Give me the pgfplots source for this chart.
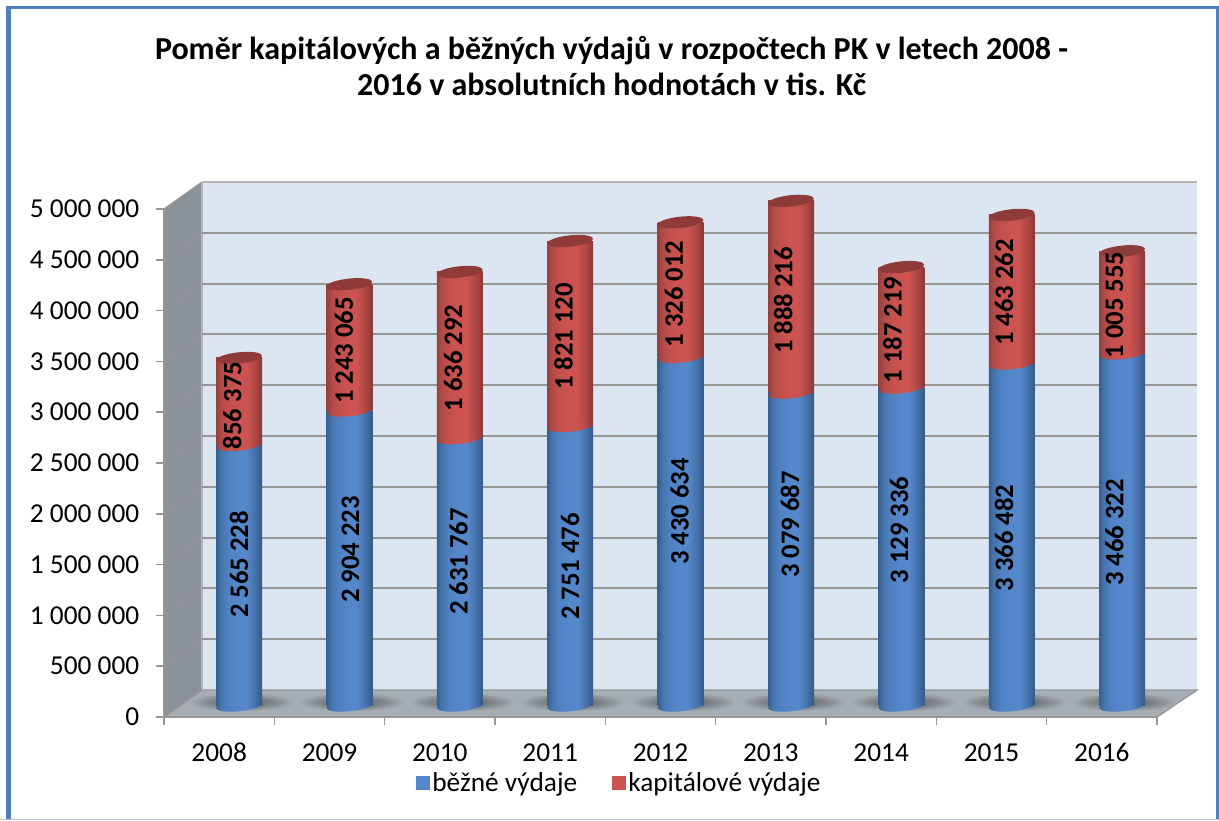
\documentclass[border=0pt]{standalone}
\usepackage{fontspec}
\setmainfont{Carlito}
\usepackage{pgfplots}
\usepackage{pgfplotstable}
\pgfplotsset{compat=1.18}
\usetikzlibrary{shapes.geometric}
\definecolor{frameblue}{HTML}{4F81BD}
\definecolor{wallc}{HTML}{DCE6F2}
\definecolor{gridc}{HTML}{969696}
\definecolor{floorc}{HTML}{A6AEB4}
\definecolor{sidec}{HTML}{8C9299}
\definecolor{capc}{HTML}{8E3B39}
\definecolor{blueL}{HTML}{36608F}\definecolor{blueM}{HTML}{5587CB}\definecolor{blueR}{HTML}{335A88}
\definecolor{redL}{HTML}{94403D}\definecolor{redM}{HTML}{CC5350}\definecolor{redR}{HTML}{8A3735}
\pgfdeclarehorizontalshading{cylB}{100bp}{color(0bp)=(blueL); color(25bp)=(blueL); color(30bp)=(blueL!50!blueM); color(38bp)=(blueM!85!blueL); color(50bp)=(blueM); color(58bp)=(blueM); color(68bp)=(blueR!50!blueM); color(75bp)=(blueR); color(100bp)=(blueR)}
\pgfdeclarehorizontalshading{cylR}{100bp}{color(0bp)=(redL); color(25bp)=(redL); color(30bp)=(redL!50!redM); color(38bp)=(redM!85!redL); color(50bp)=(redM); color(58bp)=(redM); color(68bp)=(redR!50!redM); color(75bp)=(redR); color(100bp)=(redR)}
\pgfplotstableread{
x bezne kap
0 2565228 856375
1 2904223 1243065
2 2631767 1636292
3 2751476 1821120
4 3430634 1326012
5 3079687 1888216
6 3129336 1187219
7 3366482 1463262
8 3466322 1005555
}\data
\pgfplotstableread[col sep=comma]{
x,y,t
0,1388800,2 565 228
1.01,1536400,2 904 223
1.99,1418300,2 631 767
3,1369100,2 751 476
3.99,1910400,3 430 634
4.99,1782500,3 079 687
5.98,1728400,3 129 336
6.93,1649600,3 366 482
7.93,1703800,3 466 322
}\labB
\pgfplotstableread[col sep=comma]{
x,y,t
-0.06,2953700,856 375
0.95,3495100,1 243 065
1.94,3421300,1 636 292
2.94,3632900,1 821 120
3.94,4051300,1 326 012
4.93,3987200,1 888 216
5.92,3696900,1 187 219
6.93,4065900,1 463 262
7.93,3942900,1 005 555
}\labR
\pgfplotsset{
  barbase/.style={at={(137.85pt,85.8pt)},anchor=south west,scale only axis,width=745.2pt,height=381pt,
    xmin=-0.5,xmax=8.5,ymin=0,ymax=5000000,clip=false,hide axis},
  ell/.style={nodes near coords={\phantom{}},draw=none,mark=none,forget plot,
    every node near coord/.append style={ellipse,inner sep=0pt,minimum width=34.5pt,minimum height=8.5pt,rotate=6,anchor=center,draw=none,#1}},
}
\begin{document}
\begin{tikzpicture}
\path[use as bounding box] (0,0) rectangle (914.25pt,615pt);
\begin{scope}[x=0.75pt,y=-0.75pt,yshift=615pt]
  % frame
  \fill[frameblue] (6,6) rectangle (11,820);
  \fill[frameblue] (6,6) rectangle (1219,9.5);
  \fill[frameblue] (1216,6) rectangle (1219,820);
  \fill[frameblue!45] (0,818.5) rectangle (1219,820);
  % walls
  \fill[wallc] (202,182) rectangle (1197,690);
  \fill[sidec] (164,209) -- (202,182) -- (202,690) -- (164,717) -- cycle;
  \fill[floorc] (164,717) -- (202,690) -- (1197,690) -- (1157,717) -- cycle;
  \draw[gridc,line width=1.1pt] (164,717) -- (202,690) -- (1197,690) -- (1157,717) -- cycle;
  \foreach \i in {1,...,10}{
    \draw[gridc,line width=0.9pt] (164,{717-50.8*\i}) -- (202,{690-50.8*\i});
  }
  \draw[gridc!70,line width=1pt] (202,182) -- (1197,182);
  \draw[gridc!70,line width=1pt] (202,182) -- (202,690);
\end{scope}
% back wall grid
\begin{axis}[at={(151.5pt,97.5pt)},anchor=south west,scale only axis,width=746.25pt,height=381pt,
  xmin=0,xmax=1,ymin=0,ymax=5000000,axis line style={draw=none},xtick=\empty,
  ytick={500000,1000000,1500000,2000000,2500000,3000000,3500000,4000000,4500000},yticklabels={},
  scaled y ticks=false,
  major tick length=0pt,ymajorgrids,grid style={gridc,line width=1.4pt}]
\end{axis}
% front axis: ticks, labels, title, legend
\begin{axis}[at={(123pt,77.25pt)},anchor=south west,scale only axis,width=744.75pt,height=381pt,
  xmin=-0.5,xmax=8.5,ymin=0,ymax=5000000,axis lines*=left,
  axis line style={gridc,line width=1.3pt},
  xtick={0,1,2,3,4,5,6,7,8},xticklabels={2008,2009,2010,2011,2012,2013,2014,2015,2016},
  minor xtick={-0.5,0.5,1.5,2.5,3.5,4.5,5.5,6.5,7.5,8.5},
  ytick={0,500000,1000000,1500000,2000000,2500000,3000000,3500000,4000000,4500000,5000000},
  yticklabels={0,500 000,1 000 000,1 500 000,2 000 000,2 500 000,3 000 000,3 500 000,4 000 000,4 500 000,5 000 000},
  scaled y ticks=false,
  tick align=outside,major x tick style={draw=none},
  tick style={gridc,line width=1.2pt},
  major tick length=6pt,minor tick length=6pt,
  tick label style={font=\fontsize{20.5}{24}\selectfont,text=black},
  yticklabel style={xshift=-9pt},
  xticklabel style={yshift=-10.5pt,text height=13pt,text depth=0pt},
  title={Poměr kapitálových a běžných výdajů v rozpočtech PK v letech 2008 -\\2016 v absolutních hodnotách v tis. Kč},
  title style={at={(0.4507,1.2657)},anchor=center,align=center,text=black,
    font=\bfseries\fontsize{24}{27}\selectfont},
  legend style={at={(0.4587,-0.13)},anchor=center,draw=none,fill=none,legend columns=2,
    font=\fontsize{20.5}{24}\selectfont,
    /tikz/every even column/.append style={column sep=24pt}},
]
\addlegendimage{legend image code/.code={\fill[blueM] (0pt,-5pt) rectangle (10pt,5pt);}}
\addlegendentry{běžné výdaje}
\addlegendimage{legend image code/.code={\fill[redM] (0pt,-5pt) rectangle (10pt,5pt);}}
\addlegendentry{kapitálové výdaje}
\end{axis}
% floor shadows and base ellipses
\begin{axis}[barbase]
\addplot[nodes near coords={\phantom{}},draw=none,mark=none,forget plot,
  every node near coord/.append style={ellipse,inner sep=0pt,minimum width=80pt,minimum height=14pt,anchor=center,draw=none,inner color=floorc!45!black,outer color=floorc}]
  table[row sep=\\]{x y\\0.02 35000\\1.02 35000\\2.02 35000\\3.02 35000\\4.02 35000\\5.02 35000\\6.02 35000\\7.02 35000\\8.02 35000\\};
\addplot[ell={shade,shading=cylB}] table[x=x,y expr=0]{\data};
\end{axis}
% stacked bars, one axis per year so that each bar has its own shading
\foreach \i in {0,...,8}{
\begin{axis}[barbase,ybar stacked,bar width=34.5pt]
\addplot[shade,shading=cylB,draw=none,restrict expr to domain={\coordindex}{\i:\i}] table[x=x,y=bezne]{\data};
\addplot[shade,shading=cylR,draw=none,restrict expr to domain={\coordindex}{\i:\i}] table[x=x,y=kap]{\data};
\end{axis}
}
% boundary and top ellipses, data labels
\begin{axis}[barbase]
\addplot[ell={shade,shading=cylR}] table[x=x,y=bezne]{\data};
\addplot[ell={fill=capc}] table[x=x,y expr=\thisrow{bezne}+\thisrow{kap}]{\data};
\addplot[draw=none,mark=none,forget plot,nodes near coords,point meta=explicit symbolic,
  every node near coord/.append style={rotate=90,anchor=center,text=black,inner sep=0pt,font=\bfseries\fontsize{20}{22}\selectfont}]
  table[x=x,y=y,meta=t]{\labB};
\addplot[draw=none,mark=none,forget plot,nodes near coords,point meta=explicit symbolic,
  every node near coord/.append style={rotate=90,anchor=center,text=black,inner sep=0pt,font=\bfseries\fontsize{20}{22}\selectfont}]
  table[x=x,y=y,meta=t]{\labR};
\end{axis}
\end{tikzpicture}
\end{document}
